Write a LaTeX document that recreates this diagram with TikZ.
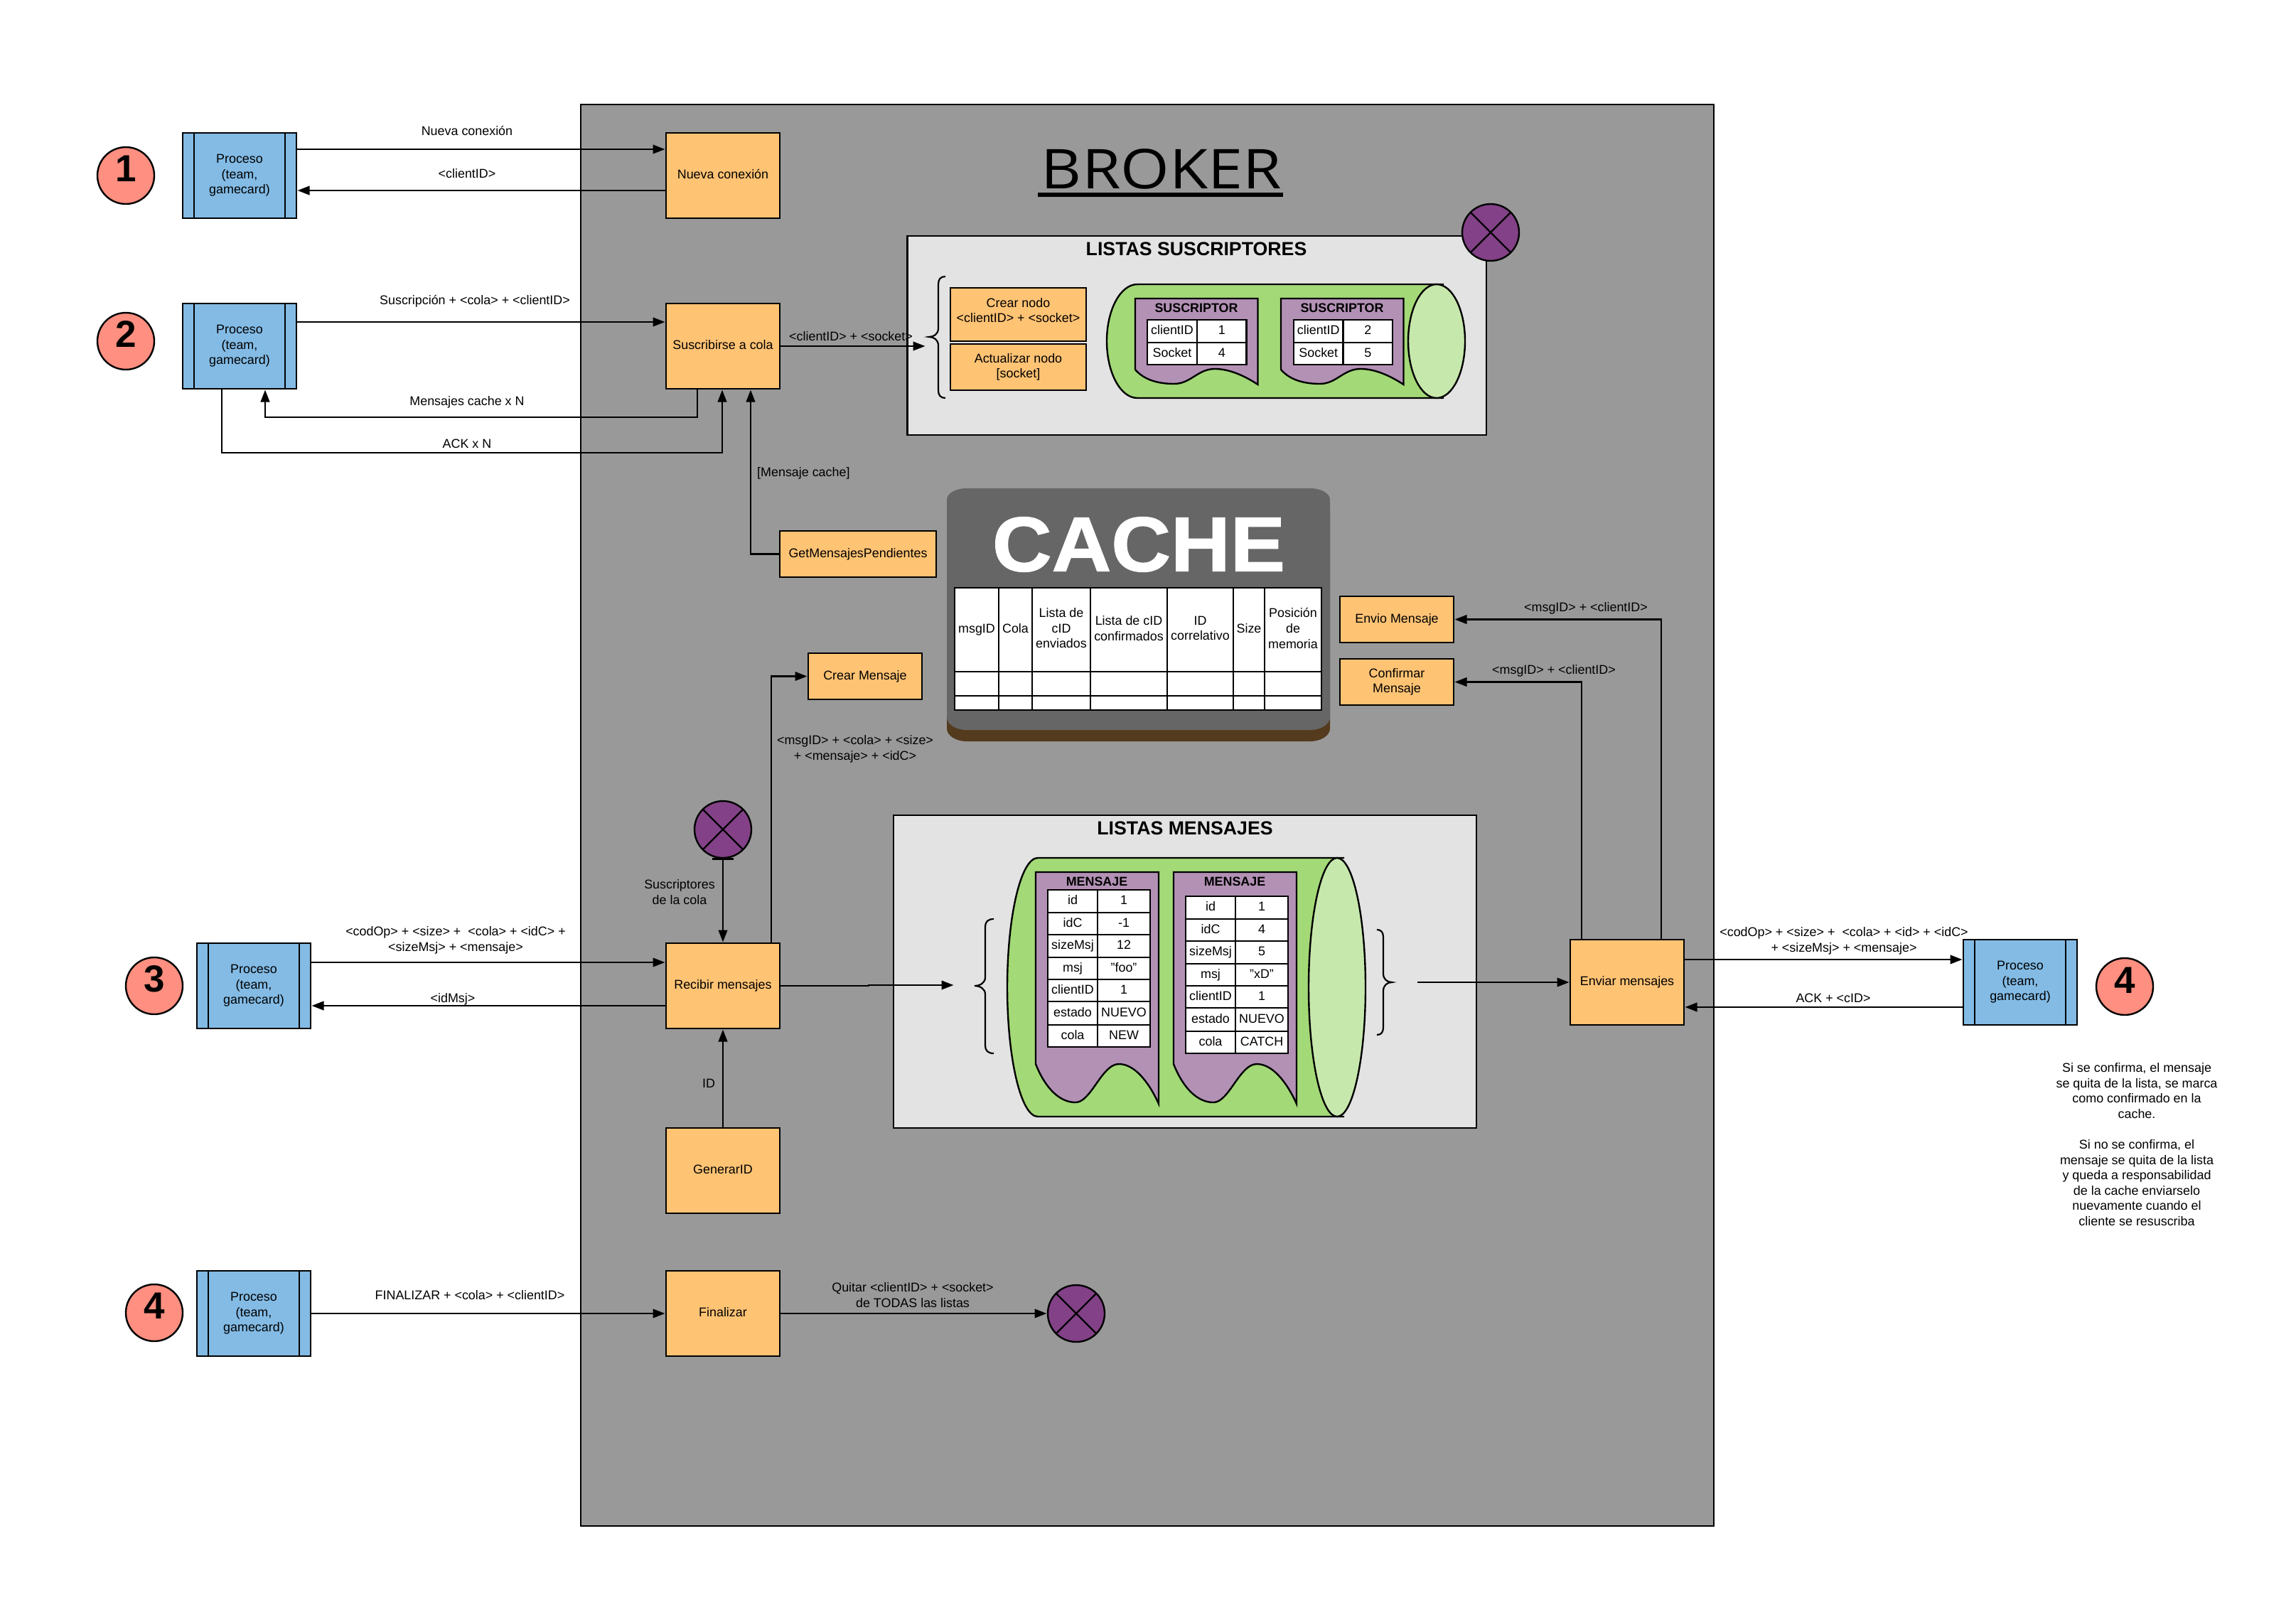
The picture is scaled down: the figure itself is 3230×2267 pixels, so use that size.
\documentclass[tikz,border=0pt]{standalone}
\usepackage{fontspec}
\usepackage{graphicx}
\setmainfont{Liberation Sans}
\newfontfamily\brokerfont{Open Sans}
\newfontfamily\cachefont[FakeBold=1.2]{Liberation Sans Bold}
\usetikzlibrary{arrows.meta,calc}
\definecolor{cBroker}{HTML}{999999}
\definecolor{cOrange}{HTML}{FFC374}
\definecolor{cBlue}{HTML}{83BBE5}
\definecolor{cRed}{HTML}{FF8F80}
\definecolor{cPurple}{HTML}{834187}
\definecolor{cPanel}{HTML}{E3E3E3}
\definecolor{cGreen}{HTML}{A3D977}
\definecolor{cLGreen}{HTML}{C7E8AC}
\definecolor{cMauve}{HTML}{B391B5}
\definecolor{cCache}{HTML}{666666}
\definecolor{cBrown}{HTML}{543B1E}
\newcommand{\stt}{\rule[-4.2pt]{0pt}{17.6pt}}
\tikzset{
  ln/.style={line width=2.4pt,draw=black},
  strutted/.style={execute at begin node=\stt,execute at end node=\stt},
  obox/.style={ln,fill=cOrange,rectangle,outer sep=0pt,inner sep=1pt,align=center,minimum width=160pt,minimum height=120pt,strutted},
  proc/.style={ln,fill=cBlue,rectangle,outer sep=0pt,inner sep=1pt,align=center,minimum width=160pt,minimum height=120pt,strutted},
  numc/.style={ln,fill=cRed,circle,outer sep=0pt,inner sep=0pt,minimum size=80pt},
  numt/.style={inner sep=0pt,font=\fontsize{53}{53}\selectfont\bfseries},
  xc/.style={ln,fill=cPurple,circle,outer sep=0pt,inner sep=0pt,minimum size=80pt},
  arr/.style={ln,-{Triangle[length=17pt,width=12.5pt]},shorten >=1.5pt},
  lbl/.style={inner sep=0pt,align=center,strutted},
  ttl/.style={inner sep=0pt,align=center,font=\fontsize{26.7}{30}\selectfont\bfseries},
  sttl/.style={inner sep=0pt,align=center,font=\fontsize{17.9}{21.6}\selectfont\bfseries},
  cellb/.style={line width=2.2pt,draw=black,fill=white,rectangle,outer sep=0pt,inner sep=0pt,align=center,strutted},
  panel/.style={ln,fill=cPanel},
  docf/.style={ln,fill=cMauve},
}
\newcommand{\cellt}[5]{\node[cellb,minimum width={(#3-#1)*1pt},minimum height={(#4-#2)*1pt}] (c#1x#2) at ({(#1+#3)/2},{(#2+#4)/2}) {#5};}
\newcommand{\procbox}[3]{%
  \node[proc] (#1) at (#2,#3) {Proceso\\(team,\\gamecard)};
  \draw[ln] ([xshift=16pt]#1.north west) -- ([xshift=16pt]#1.south west);
  \draw[ln] ([xshift=-16pt]#1.north east) -- ([xshift=-16pt]#1.south east);}
\newcommand{\xmark}[3]{%
  \node[xc] (#1) at (#2,#3) {};
  \draw[ln] (#1.45) -- (#1.225);
  \draw[ln] (#1.135) -- (#1.-45);}
% end, stem, tip, top, tipy, bottom
\newcommand{\brc}[6]{%
  \draw[line width=2.2pt] (#1,#4) .. controls ({#2+0.3*(#1-#2)},#4) and (#2,#4+4) .. (#2,#4+11)
    -- (#2,#5-12) .. controls (#2,#5-4) and ({#3+0.5*(#2-#3)},#5) .. (#3,#5)
    .. controls ({#3+0.5*(#2-#3)},#5) and (#2,#5+4) .. (#2,#5+12)
    -- (#2,#6-11) .. controls (#2,#6-4) and ({#2+0.3*(#1-#2)},#6) .. (#1,#6);}
\begin{document}
\begin{tikzpicture}[x=1pt,y=-1pt,every node/.style={font=\fontsize{17.9}{21.6}\selectfont}]
\useasboundingbox (0,0) rectangle (3230,2267);
\fill[white] (0,0) rectangle (3230,2267);
% Broker
\draw[ln,fill=cBroker] (817,147) rectangle (2411,2147);
\node[inner sep=0pt] (brokert) at (1634,238) {\resizebox{338pt}{56pt}{\brokerfont BROKER}};
\fill[black] (1460,271) rectangle (1805,277);

% Numbers
\node[numc] (n1) at (177,247) {};  \node[numt] (n1t) at (177,237) {1};
\node[numc] (n2) at (177,480) {};  \node[numt] (n2t) at (177,470) {2};
\node[numc] (n3) at (217,1387) {}; \node[numt] (n3t) at (217,1377) {3};
\node[numc] (n4) at (217,1847) {}; \node[numt] (n4t) at (217,1837) {4};
\node[numc] (n5) at (2989,1388) {};\node[numt] (n5t) at (2989,1379) {4};

% Processes
\procbox{p1}{337}{247}
\procbox{p2}{337}{487}
\procbox{p3}{357}{1387}
\procbox{p4}{357}{1848}
\procbox{p5}{2842}{1382}

% Orange boxes
\node[obox] (nc) at (1017,247) {Nueva conexión};
\node[obox] (sc) at (1017,487) {Suscribirse a cola};
\node[obox] (rm) at (1017,1387) {Recibir mensajes};
\node[obox] (gi) at (1017,1647) {GenerarID};
\node[obox] (fi) at (1017,1848) {Finalizar};
\node[obox,minimum width=220pt,minimum height=65pt] (gm) at (1207,779.5) {GetMensajesPendientes};
\node[obox,minimum height=65pt] (cm) at (1217,951.5) {Crear Mensaje};
\node[obox,minimum height=65pt] (env) at (1965,871.5) {Envio Mensaje};
\node[obox,minimum height=65pt] (conf) at (1965,959.5) {Confirmar\\Mensaje};
\node[obox] (em) at (2289,1382) {Enviar mensajes};

% Listas suscriptores
\draw[panel] (1276.5,332) rectangle (2091,612);
\node[ttl] (lst) at (1683,350) {LISTAS SUSCRIPTORES};
\node[obox,minimum width=191pt,minimum height=75pt] (crn) at (1432.5,442.5) {Crear nodo\\<clientID> + <socket>\rule[-12pt]{0pt}{1pt}};
\node[obox,minimum width=191pt,minimum height=65pt] (acn) at (1432.5,516.5) {Actualizar nodo\\{[socket]}};
\brc{1330}{1320}{1307}{389}{474}{560}
\fill[cGreen] (2021,400) -- (1600,400) arc[start angle=90,end angle=270,x radius=43pt,y radius=80pt] -- (2021,560) -- cycle;
\draw[ln] (2031,400) -- (1600,400) arc[start angle=90,end angle=270,x radius=43pt,y radius=80pt] -- (2031,560);
\draw[ln,fill=cLGreen] (2021,480) ellipse[x radius=40pt,y radius=80pt];
\foreach \dx in {0,205}{
  \begin{scope}[xshift=\dx pt]
  \draw[docf] (1597,420) -- (1769.5,420) -- (1769.5,541) .. controls (1745,525) and (1725,519) .. (1709,519)
    .. controls (1685,519) and (1675,540) .. (1652,540) .. controls (1630,540) and (1610,535) .. (1597,520) -- cycle;
  \node[sttl] at (1683,433) {SUSCRIPTOR};
  \end{scope}
}
\cellt{1614}{450}{1684}{482}{clientID}
\cellt{1684}{450}{1753.5}{482}{1}
\cellt{1614}{482}{1684}{513}{Socket}
\cellt{1684}{482}{1753.5}{513}{4}
\cellt{1820}{450}{1889.5}{482}{clientID}
\cellt{1889.5}{450}{1959}{482}{2}
\cellt{1820}{482}{1889.5}{513}{Socket}
\cellt{1889.5}{482}{1959}{513}{5}
\xmark{xa}{2097}{327}

% Cache
\fill[cBrown] (1360,703) -- (1843,703) arc[start angle=90,end angle=0,x radius=28pt,y radius=16pt] -- (1871,1025) arc[start angle=0,end angle=-90,x radius=28pt,y radius=18pt] -- (1360,1043) arc[start angle=270,end angle=180,x radius=28pt,y radius=18pt] -- (1332,719) arc[start angle=180,end angle=90,x radius=28pt,y radius=16pt] -- cycle;
\fill[cCache] (1360,687) -- (1843,687) arc[start angle=90,end angle=0,x radius=28pt,y radius=16pt] -- (1871,1009) arc[start angle=0,end angle=-90,x radius=28pt,y radius=18pt] -- (1360,1027) arc[start angle=270,end angle=180,x radius=28pt,y radius=18pt] -- (1332,703) arc[start angle=180,end angle=90,x radius=28pt,y radius=16pt] -- cycle;
\node[inner sep=0pt,text=white] (cachet) at (1602,766) {\resizebox{412pt}{76pt}{\cachefont CACHE}};
\cellt{1343}{827}{1405}{945}{msgID}
\cellt{1405}{827}{1452}{945}{Cola}
\cellt{1452}{827}{1534}{945}{Lista de\\cID\\enviados}
\cellt{1534}{827}{1642}{945}{Lista de cID\\confirmados}
\cellt{1642}{827}{1735}{945}{ID\\correlativo}
\cellt{1735}{827}{1779}{945}{Size}
\cellt{1779}{827}{1859}{945}{Posición\\de\\memoria}
\foreach \a/\b in {1343/1405,1405/1452,1452/1534,1534/1642,1642/1735,1735/1779,1779/1859}{
  \cellt{\a}{945}{\b}{979}{}
  \cellt{\a}{979}{\b}{999}{}
}

% Listas mensajes
\draw[panel] (1257,1147) rectangle (2077,1587);
\node[ttl] (lsm) at (1667,1165) {LISTAS MENSAJES};
\brc{1398}{1386}{1371}{1293}{1387}{1482}
\brc{1937}{1946}{1958}{1308}{1382}{1456}
\fill[cGreen] (1881,1207) -- (1460,1207) arc[start angle=90,end angle=270,x radius=43pt,y radius=182pt] -- (1881,1571) -- cycle;
\draw[ln] (1891,1207) -- (1460,1207) arc[start angle=90,end angle=270,x radius=43pt,y radius=182pt] -- (1891,1571);
\draw[ln,fill=cLGreen] (1881,1389) ellipse[x radius=40pt,y radius=182pt];
\foreach \dx in {0,194}{
  \begin{scope}[xshift=\dx pt]
  \draw[docf] (1457,1227) -- (1630,1227) -- (1630,1553) .. controls (1615,1520) and (1595,1497) .. (1574,1497)
    .. controls (1550,1497) and (1535,1551) .. (1513,1551) .. controls (1490,1551) and (1470,1530) .. (1457,1497) -- cycle;
  \node[sttl] at (1543,1240) {MENSAJE};
  \end{scope}
}
\cellt{1474}{1252}{1544}{1284}{id}       \cellt{1544}{1252}{1618}{1284}{1}
\cellt{1474}{1284}{1544}{1315}{idC}      \cellt{1544}{1284}{1618}{1315}{-1}
\cellt{1474}{1315}{1544}{1347}{sizeMsj}  \cellt{1544}{1315}{1618}{1347}{12}
\cellt{1474}{1347}{1544}{1378}{msj}      \cellt{1544}{1347}{1618}{1378}{"foo"}
\cellt{1474}{1378}{1544}{1409}{clientID} \cellt{1544}{1378}{1618}{1409}{1}
\cellt{1474}{1409}{1544}{1442}{estado}   \cellt{1544}{1409}{1618}{1442}{NUEVO}
\cellt{1474}{1442}{1544}{1473}{cola}     \cellt{1544}{1442}{1618}{1473}{NEW}
\cellt{1668}{1261}{1738}{1293}{id}       \cellt{1738}{1261}{1812}{1293}{1}
\cellt{1668}{1293}{1738}{1324}{idC}      \cellt{1738}{1293}{1812}{1324}{4}
\cellt{1668}{1324}{1738}{1356}{sizeMsj}  \cellt{1738}{1324}{1812}{1356}{5}
\cellt{1668}{1356}{1738}{1387}{msj}      \cellt{1738}{1356}{1812}{1387}{"xD"}
\cellt{1668}{1387}{1738}{1418}{clientID} \cellt{1738}{1387}{1812}{1418}{1}
\cellt{1668}{1418}{1738}{1451}{estado}   \cellt{1738}{1418}{1812}{1451}{NUEVO}
\cellt{1668}{1451}{1738}{1482}{cola}     \cellt{1738}{1451}{1812}{1482}{CATCH}

% X marks
\xmark{xb}{1017}{1167}
\xmark{xd}{1514}{1848}

% Connectors
\draw[arr] (p1.east |- 0,210) -- (nc.west |- 0,210);
\draw[arr] (nc.west |- 0,268) -- (p1.east |- 0,268);
\draw[arr] (p2.east |- 0,453) -- (sc.west |- 0,453);
\draw[arr] (sc.south -| 981,0) -- (981,587) -- (373,587) -- (p2.south -| 373,0);
\draw[arr] (p2.south -| 312,0) -- (312,637) -- (1016,637) -- (sc.south -| 1016,0);
\draw[arr] (gm.west) -- (1056,779.5) -- (sc.south -| 1056,0);
\coordinate (brs) at (1303,487);
\draw[arr] (sc.east) -- (brs);
\draw[arr] (p3.east |- 0,1354) -- (rm.west |- 0,1354);
\draw[arr] (rm.west |- 0,1415) -- (p3.east |- 0,1415);
\draw[arr] (rm.north -| 1085,0) -- (1085,951.5) -- (cm.west);
\draw[arr] (xb.south) -- (rm.north);
\draw[ln] ([xshift=-15pt,yshift=-1.5pt]xb.south) -- ([xshift=15pt,yshift=-1.5pt]xb.south);
\draw[arr] (gi.north) -- (rm.south);
\coordinate (brm) at (1343,1386);
\draw[arr] (rm.east) -- (1222,1387) -- (1222,1386) -- (brm);
\coordinate (mout) at (1994,1382);
\draw[arr] (mout) -- (em.west);
\draw[arr] (em.north -| 2337,0) -- (2337,871.5) -- (env.east);
\draw[arr] (em.north -| 2225,0) -- (2225,959.5) -- (conf.east);
\draw[arr] (em.east |- 0,1350) -- (p5.west |- 0,1350);
\draw[arr] (p5.west |- 0,1417) -- (em.east |- 0,1417);
\draw[arr] (p4.east) -- (fi.west);
\draw[arr] (fi.east) -- (xd.west);

% Labels
\node[lbl] (l1) at (657,186) {Nueva conexión};
\node[lbl] (l2) at (657,246) {<clientID>};
\node[lbl] (l3) at (668,424) {Suscripción + <cola> + <clientID>};
\node[lbl] (l4) at (657,566) {Mensajes cache x N};
\node[lbl] (l5) at (657,626) {ACK x N};
\node[lbl] (l6) at (1197,475) {<clientID> + <socket>};
\node[lbl,anchor=west] (l7) at (1065,666) {[Mensaje cache]};
\node[lbl] (l8) at (1203,1054) {<msgID> + <cola> + <size>\\+ <mensaje> + <idC>};
\node[lbl] (l9) at (956,1257) {Suscriptores\\de la cola};
\node[lbl] (l10) at (997,1526) {ID};
\node[lbl] (l11) at (641,1323) {<codOp> + <size> + \ <cola> + <idC> +\\<sizeMsj> + <mensaje>};
\node[lbl] (l12) at (637,1406) {<idMsj>};
\node[lbl] (l13) at (661,1824) {FINALIZAR + <cola> + <clientID>};
\node[lbl] (l14) at (1284,1824) {Quitar <clientID> + <socket>\\de TODAS las listas};
\node[lbl] (l15) at (2231,856) {<msgID> + <clientID>};
\node[lbl] (l16) at (2186,944) {<msgID> + <clientID>};
\node[lbl] (l17) at (2594,1324) {<codOp> + <size> + \ <cola> + <id> + <idC>\\+ <sizeMsj> + <mensaje>};
\node[lbl] (l18) at (2579,1406) {ACK + <cID>};
\node[lbl] (l19) at (3006,1612) {Si se confirma, el mensaje\\se quita de la lista, se marca\\como confirmado en la\\cache.\\[21.6pt]Si no se confirma, el\\mensaje se quita de la lista\\y queda a responsabilidad\\de la cache enviarselo\\nuevamente cuando el\\cliente se resuscriba};
\end{tikzpicture}
\end{document}
